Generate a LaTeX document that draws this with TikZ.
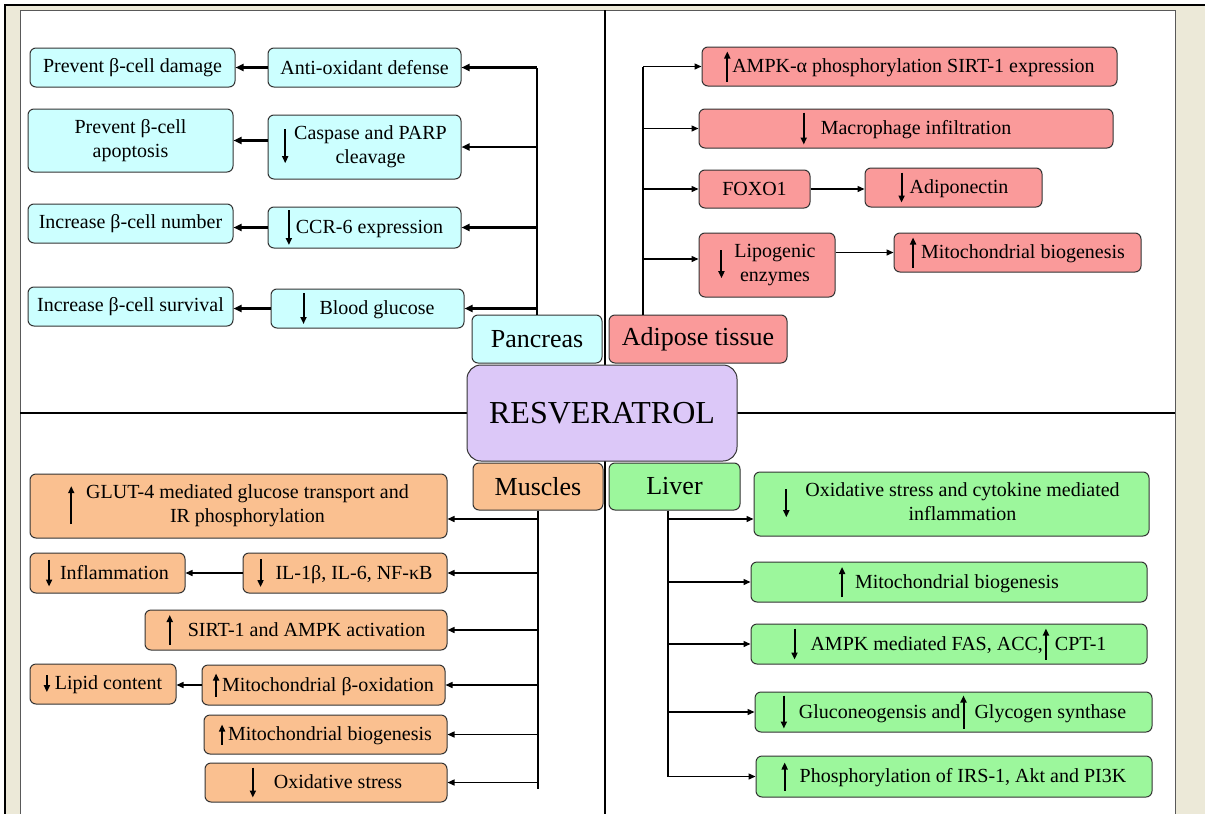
\documentclass[tikz,border=0pt]{standalone}
\usepackage{fontspec}
\setmainfont{Liberation Serif}
\usetikzlibrary{arrows.meta,calc}
\definecolor{cyanF}{HTML}{CCFFFF}
\definecolor{redF}{HTML}{FA9A9A}
\definecolor{orF}{HTML}{FAC090}
\definecolor{grF}{HTML}{9CF79C}
\definecolor{puF}{HTML}{DCC8F8}
\definecolor{beigeF}{HTML}{ECE9D8}
\definecolor{edgeC}{HTML}{333333}
\newcommand\UA[1]{\tikz[baseline=0pt]\draw[draw=black,line width=2pt,-{Triangle[length=7pt,width=6pt]}] (0pt,6pt-#1*0.5pt) -- (0pt,6pt+#1*0.5pt);}
\newcommand\DA[1]{\tikz[baseline=0pt]\draw[draw=black,line width=2pt,-{Triangle[length=7pt,width=6pt]}] (0pt,6pt+#1*0.5pt) -- (0pt,6pt-#1*0.5pt);}
\newcommand\TB[1]{\begin{tabular}{@{}c@{}}#1\end{tabular}}
\tikzset{
  box/.style={draw=edgeC, line width=1pt, rounded corners=6pt, inner sep=2pt, font=\fontsize{20}{24}\selectfont},
  cbox/.style={box, fill=cyanF},
  rbox/.style={box, fill=redF},
  obox/.style={box, fill=orF},
  gbox/.style={box, fill=grF},
  organ/.style={font=\fontsize{26}{30}\selectfont},
  sz/.style 2 args={minimum width=#1pt, minimum height=#2pt},
  arP/.style={line width=2.2pt, -{Triangle[length=8pt,width=7pt]}},
  arr/.style={line width=1.4pt, -{Triangle[length=7pt,width=6pt]}},
  trP/.style={line width=2pt},
  tr/.style={line width=1.4pt},
  divider/.style={line width=1.5pt}
}
\begin{document}
\begin{tikzpicture}[x=1pt,y=-1pt]
\useasboundingbox (0,0) rectangle (1205,814);
% background and frame
\fill[beigeF] (5,5) rectangle (1205,814);
\fill[white] (20,10) rectangle (1175,814);
\draw[gray!70!black, line width=1pt] (20,814) -- (20,10) -- (1175,10) -- (1175,814);
\draw[line width=1.8pt] (4,5) -- (1205,5);
\draw[line width=1.8pt] (5,5) -- (5,814);
% dividers
\draw[divider] (605,10) -- (605,365);
\draw[divider] (605,461) -- (605,814);
\draw[divider] (20,413) -- (467,413);
\draw[divider] (737,413) -- (1175,413);

% ---------- Pancreas ----------
\node[cbox, sz={205}{39}] (pd) at (132.5,67.5) {Prevent β-cell damage};
\node[cbox, sz={193}{39}] (ao) at (364.5,67.5) {Anti-oxidant defense};
\node[cbox, sz={205}{63}, align=center] (pa) at (130.5,140.5) {Prevent β-cell\\apoptosis};
\node[cbox, sz={193}{64}] (cp) at (364.5,147) {\DA{34}\hspace{6pt}\TB{Caspase and PARP\\cleavage}};
\node[cbox, sz={205}{39}] (inum) at (130.5,223.5) {Increase β-cell number};
\node[cbox, sz={193}{39}] (ccr) at (364.5,227.5) {\DA{35}\hspace{4pt}CCR-6 expression};
\node[cbox, sz={205}{39}] (isur) at (130.5,306.5) {Increase β-cell survival};
\node[cbox, sz={193}{39}] (bg) at (367.5,308.5) {\DA{31}\hspace{13pt}Blood glucose\hspace{16pt}};
\node[cbox, organ, sz={130}{48}] (pan) at (537,339) {Pancreas};

\draw[trP] (pan.north) -- (pan.north |- ao.east);
\draw[arP] (pan.north |- ao.east) -- (ao.east);
\draw[arP] (pan.north |- cp.east) -- (cp.east);
\draw[arP] (pan.north |- ccr.east) -- (ccr.east);
\draw[arP] (pan.north |- bg.east) -- (bg.east);
\draw[arP] (ao.west) -- (pd.east);
\draw[arP] (cp.west |- pa.east) -- (pa.east);
\draw[arP] (ccr.west) -- (ccr.west -| inum.east);
\draw[arP] (bg.west) -- (bg.west -| isur.east);

% ---------- Adipose tissue ----------
\node[rbox, sz={415}{39}] (ampk) at (909.5,66.5) {\UA{30}\hspace{2pt}AMPK-α phosphorylation SIRT-1 expression};
\node[rbox, sz={414}{39}] (mac) at (906,128.5) {\DA{32}\hspace{14pt}Macrophage infiltration};
\node[rbox, sz={111}{38}] (foxo) at (754.5,189) {FOXO1};
\node[rbox, sz={177}{39}] (adipo) at (953.5,187.5) {\DA{30}\hspace{5pt}Adiponectin\hspace{10pt}};
\node[rbox, sz={136}{64}] (lipo) at (767,265) {\DA{28}\hspace{10pt}\TB{Lipogenic\\enzymes}};
\node[rbox, sz={247}{39}] (mitoA) at (1017.5,252.5) {\UA{30}\hspace{5pt}Mitochondrial biogenesis};
\node[rbox, organ, sz={178}{48}] (adi) at (698,339) {Adipose tissue};

\coordinate (adT) at ([xshift=-55pt]adi.north);
\coordinate (lipA) at ([yshift=6pt]lipo.west);
\draw[tr] (adT) -- (adT |- ampk.west);
\draw[arr] (adT |- ampk.west) -- (ampk.west);
\draw[arr] (adT |- mac.west) -- (mac.west);
\draw[arr] (adT |- foxo.west) -- (foxo.west);
\draw[arr] (adT |- lipA) -- (lipA);
\draw[arr] (foxo.east) -- (foxo.east -| adipo.west);
\draw[arr] (lipo.east |- mitoA.west) -- (mitoA.west);

% ---------- Centre ----------
\node[box, fill=puF, rounded corners=14pt, font=\fontsize{32}{36}\selectfont, sz={270}{96}] (res) at (602,413) {RESVERATROL};

% ---------- Muscles ----------
\node[obox, organ, sz={130}{47}] (mus) at (538,486.5) {Muscles};
\node[obox, sz={417}{64}] (glut) at (238.5,506) {\UA{38}\hspace{12pt}\TB{GLUT-4 mediated glucose transport and\\IR phosphorylation}\hspace{14pt}};
\node[obox, sz={155}{40}] (infl) at (107.5,573) {\DA{27}\hspace{8pt}Inflammation};
\node[obox, sz={204}{40}] (il) at (345,573) {\DA{28}\hspace{12pt}IL-1β, IL-6, NF-κB};
\node[obox, sz={302}{40}] (sirt) at (296,630) {\UA{30}\hspace{15pt}SIRT-1 and AMPK activation\hspace{14pt}};
\node[obox, sz={146}{40}] (lipid) at (103,684) {\DA{17}\hspace{5pt}Lipid content};
\node[obox, sz={243}{40}] (mbox) at (323.5,685) {\UA{23}\hspace{3pt}Mitochondrial β-oxidation};
\node[obox, sz={243}{39}] (mbioM) at (325.5,734.5) {\UA{20}\hspace{3pt}Mitochondrial biogenesis};
\node[obox, sz={242}{39}] (oxM) at (326,782.5) {\DA{30}\hspace{18pt}Oxidative stress\hspace{10pt}};

\coordinate (g1) at ([yshift=-13pt]glut.east);
\coordinate (mEnd) at ([yshift=-6pt]oxM.east);
\draw[tr] (mus.south) -- (mus.south |- mEnd);
\draw[arr] (g1 -| mus.south) -- (g1);
\draw[arr] (mus.south |- il.east) -- (il.east);
\draw[arr] (mus.south |- sirt.east) -- (sirt.east);
\draw[arr] (mus.south |- mbox.east) -- (mbox.east);
\draw[arr] (mus.south |- mbioM.east) -- (mbioM.east);
\draw[arr] (mus.south |- oxM.east) -- (oxM.east);
\draw[arr] (il.west) -- (il.west -| infl.east);
\draw[arr] (mbox.west) -- (mbox.west -| lipid.east);

% ---------- Liver ----------
\node[gbox, organ, sz={131}{47}] (liv) at (674.5,486.5) {Liver};
\node[gbox, sz={395}{64}] (oxL) at (951.5,504) {\DA{28}\hspace{16pt}\TB{Oxidative stress and cytokine mediated\\inflammation}};
\node[gbox, sz={396}{40}] (mbL) at (949,582) {\UA{30}\hspace{10pt}Mitochondrial biogenesis};
\node[gbox, sz={396}{40}] (ampkL) at (949,644) {\DA{31}\hspace{13pt}AMPK mediated FAS, ACC,\UA{31}\hspace{6pt}CPT-1};
\node[gbox, sz={397}{40}] (gluc) at (953.5,712) {\DA{33}\hspace{12pt}Gluconeogensis and\UA{33}\hspace{8pt}Glycogen synthase};
\node[gbox, sz={396}{41}] (phos) at (954,776.5) {\UA{28}\hspace{12pt}Phosphorylation of IRS-1, Akt and PI3K};

\coordinate (lT) at ([xshift=-6.5pt]liv.south);
\coordinate (o1) at ([yshift=-15pt]oxL.west);
\draw[tr] (lT) -- (lT |- phos.west);
\draw[arr] (lT |- o1) -- (o1);
\draw[arr] (lT |- mbL.west) -- (mbL.west);
\draw[arr] (lT |- ampkL.west) -- (ampkL.west);
\draw[arr] (lT |- gluc.west) -- (gluc.west);
\draw[arr] (lT |- phos.west) -- (phos.west);
\end{tikzpicture}
\end{document}
